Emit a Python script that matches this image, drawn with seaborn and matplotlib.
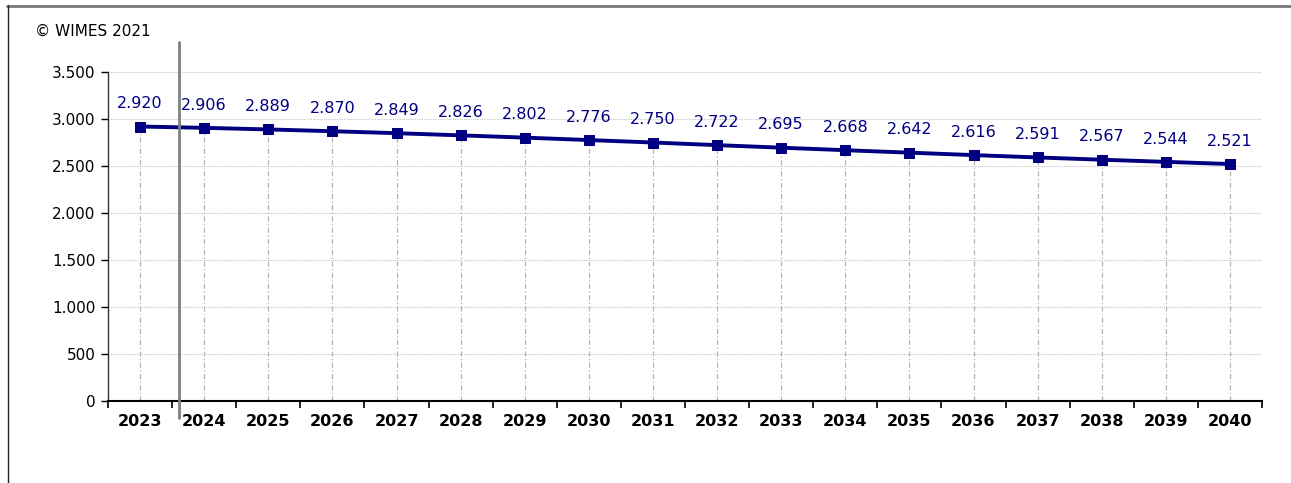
import matplotlib
matplotlib.use("Agg")
import matplotlib.pyplot as plt
import seaborn as sns
import pandas as pd
import numpy as np
from matplotlib.lines import Line2D

years = ["2023", "2024", "2025", "2026", "2027", "2028", "2029", "2030", "2031",
         "2032", "2033", "2034", "2035", "2036", "2037", "2038", "2039", "2040"]
values = [2920, 2906, 2889, 2870, 2849, 2826, 2802, 2776, 2750,
          2722, 2695, 2668, 2642, 2616, 2591, 2567, 2544, 2521]
yticks = [0, 500, 1000, 1500, 2000, 2500, 3000, 3500]
copyright_text = "© WIMES 2021"

sns.set_style("white")
plt.rcParams['font.family'] = ['DejaVu Sans']
plt.rcParams['text.color'] = 'black'
plt.rcParams['xtick.color'] = 'black'
plt.rcParams['ytick.color'] = 'black'

navy = "#000080"
df = pd.DataFrame({"year": years, "value": values})
df["pos"] = np.arange(len(years))

fig = plt.figure(figsize=(12.91, 4.83), dpi=100)
ax = fig.add_axes([108/1291, 1 - 401/483, (1262-108)/1291, (401-72)/483])

# horizontal grid
for yv in yticks:
    ax.axhline(yv, color="#c4c4c4", lw=0.8, ls=(0, (1, 1)), zorder=0)
# drop lines
ax.vlines(df["pos"], 0, df["value"], colors="#b4b4b4", lw=0.9, ls=(0, (4, 2, 1, 2)), zorder=1)

sns.lineplot(data=df, x="pos", y="value", ax=ax, color=navy, lw=2.8,
             marker="s", markersize=7, markeredgecolor=navy, zorder=3)

for p, v in zip(df["pos"], df["value"]):
    ax.annotate(f"{v:,}".replace(",", "."), (p, v), xytext=(0, 11), textcoords="offset points",
                ha="center", va="bottom", color=navy, fontsize=11.5)

ax.set_xlim(-0.5, len(years) - 0.5)
ax.set_ylim(0, 3500)
ax.set_yticks(yticks)
ax.set_yticklabels([f"{t:,}".replace(",", ".") for t in yticks], fontsize=11)
ax.set_xticks(np.arange(len(years) + 1) - 0.5)
ax.set_xticklabels([])
ax.set_xticks(np.arange(len(years)), minor=True)
ax.set_xticklabels(years, minor=True, fontsize=11.5, fontweight="bold")
ax.tick_params(axis="x", which="major", bottom=True, length=5, width=1.2, color="black", direction="out")
ax.tick_params(axis="x", which="minor", bottom=False, length=0, pad=9)
ax.tick_params(axis="y", left=True, length=5, width=1, color="black", direction="out", pad=4)
ax.set_xlabel("")
ax.set_ylabel("")
for s in ["top", "right"]:
    ax.spines[s].set_visible(False)
ax.spines["left"].set_color("#333333")
ax.spines["bottom"].set_color("black")
ax.spines["bottom"].set_linewidth(1.5)
ax.spines["left"].set_linewidth(1)

# current-year marker line
ax.add_line(Line2D([0.61, 0.61], [1.091, -0.052], transform=ax.get_xaxis_transform(),
                   color="#808080", lw=2, clip_on=False, zorder=4))

fig.text(35/1291, 1 - 31/483, copyright_text, fontsize=11, va="center", ha="left")

# outer frame
fig.add_artist(Line2D([7/1291, 1.0], [1 - 5.5/483, 1 - 5.5/483], transform=fig.transFigure, color="#777777", lw=2))
fig.add_artist(Line2D([7.5/1291, 7.5/1291], [0, 1 - 5/483], transform=fig.transFigure, color="#222222", lw=1))

fig.savefig("out.png", dpi=100)
